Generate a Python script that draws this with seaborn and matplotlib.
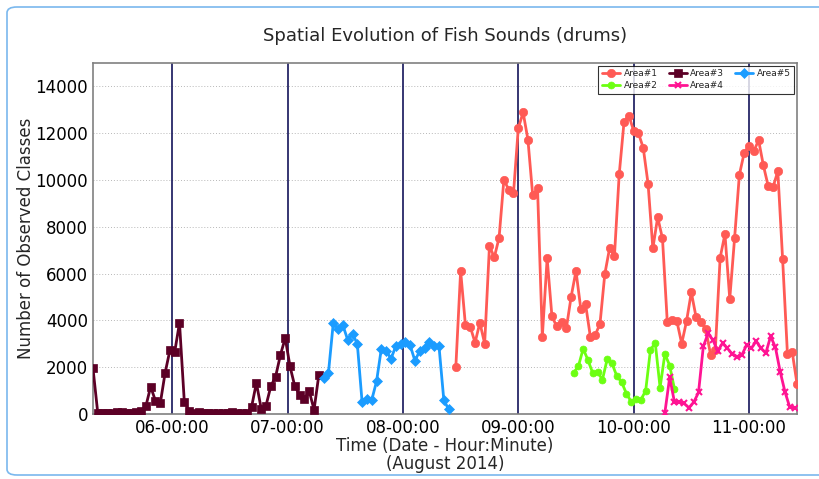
import numpy as np
import pandas as pd
import seaborn as sns
import matplotlib
matplotlib.use("Agg")
import matplotlib.pyplot as plt
import matplotlib.dates as mdates
from matplotlib.patches import FancyBboxPatch

# values, one sample every 2.5 minutes
area1_start = "2014-08-01 08:27:30"
area1 = [2000, 6110, 3790, 3730, 3050, 3900, 3010, 7190, 6690, 7530,
         10010, 9590, 9440, 12210, 12890, 11730, 9340, 9660, 3300, 6650,
         4170, 3740, 3930, 3670, 5020, 6110, 4500, 4690, 3290, 3370,
         3860, 5980, 7090, 6740, 10250, 12480, 12750, 12110, 12000, 11370,
         9840, 7080, 8410, 7500, 3930, 4030, 3960, 3010, 3960, 5200,
         4130, 3930, 3640, 2540, 2750, 6680, 7690, 4920, 7500, 10220,
         11160, 11470, 11230, 11700, 10620, 9740, 9700, 10370, 6620, 2570,
         2640, 1290]

area2_start = "2014-08-01 09:28:45"
area2 = [1760, 2040, 2790, 2300, 1740, 1800, 1460, 2350, 2160, 1620,
         1360, 870, 520, 640, 610, 990, 2750, 3030, 1130, 2570,
         2070, 1060]

area3_start = "2014-08-01 05:18:45"
area3 = [1950, 30, 30, 50, 60, 80, 90, 40, 30, 100,
         130, 330, 1170, 560, 450, 1750, 2720, 2640, 3900, 530,
         140, 40, 70, 40, 30, 30, 60, 40, 30, 70,
         50, 40, 40, 300, 1330, 230, 360, 1180, 1600, 2520,
         3250, 2030, 1180, 830, 650, 970, 180, 1680]

area4_start = "2014-08-01 10:16:15"
area4 = [60, 1570, 500, 510, 450, 270, 500, 920, 2890, 3450,
         3160, 2680, 3030, 2810, 2570, 2450, 2510, 2950, 2810, 3110,
         2810, 2600, 3320, 2850, 1800, 940, 280, 270]

area5_start = "2014-08-01 07:18:45"
area5 = [1530, 1770, 3890, 3630, 3790, 3170, 3430, 3000, 500, 640,
         600, 1390, 2790, 2710, 2360, 2890, 2970, 3060, 2930, 2270,
         2710, 2820, 3070, 2920, 2890, 600, 200]

hours = ["06:00", "07:00", "08:00", "09:00", "10:00", "11:00"]

series = [
    ("Area#1", area1_start, area1, "#ff5a55", "o", 6),
    ("Area#2", area2_start, area2, "#6cff12", "o", 5),
    ("Area#3", area3_start, area3, "#5c0026", "s", 6),
    ("Area#4", area4_start, area4, "#ff1493", "x", 5),
    ("Area#5", area5_start, area5, "#1b9cff", "D", 5),
]

sns.set_style("white")
plt.rcParams["font.family"] = ["DejaVu Sans"]

fig = plt.figure(figsize=(8.2, 4.79), dpi=100)
ax = fig.add_axes([0.1134, 0.1357, 0.8586, 0.7328])

# vertical hour markers
for h in hours:
    ax.axvline(pd.Timestamp("2014-08-01 " + h), color="#14145a", lw=1.2, zorder=1)

for name, start, vals, col, mk, ms in series:
    t = pd.date_range(start, periods=len(vals), freq="150s")
    sns.lineplot(x=t, y=vals, ax=ax, color=col, marker=mk, markersize=ms,
                 markeredgecolor=col, markeredgewidth=1.5 if mk == "x" else 0.5,
                 linewidth=2, label=name, zorder=3)

ax.set_xlim(pd.Timestamp(area3_start), pd.Timestamp("2014-08-01 11:25:00"))
ax.set_ylim(0, 15000)
ax.set_yticks(np.arange(0, 15000, 2000))
ax.set_xticks([pd.Timestamp("2014-08-01 " + h) for h in hours])
ax.xaxis.set_major_formatter(mdates.DateFormatter("%H-%M:%S"))
ax.yaxis.grid(True, linestyle=(0, (1, 2)), color="#b8b8b8", linewidth=0.7)
ax.xaxis.grid(False)
ax.tick_params(labelsize=12, direction="in", length=3, colors="#808080",
               labelcolor="black")
for s in ax.spines.values():
    s.set_color("#808080")
    s.set_linewidth(1.2)

ax.set_xlabel("Time (Date - Hour:Minute)\n(August 2014)", fontsize=12,
              linespacing=1.0, labelpad=0)
ax.set_ylabel("Number of Observed Classes", fontsize=12, labelpad=0)
ax.set_title("Spatial Evolution of Fish Sounds (drums)", fontsize=13, pad=16)

leg = ax.legend(loc="upper right", ncol=3, fontsize=6.5, frameon=True,
                fancybox=False, borderaxespad=0.3, handlelength=2.0,
                columnspacing=1.2, handletextpad=0.4, borderpad=0.4,
                labelspacing=0.3)
leg.get_frame().set_edgecolor("black")
leg.get_frame().set_linewidth(0.8)

# rounded panel outline around the chart
box = FancyBboxPatch((7 / 820, 4 / 479), 830 / 820, 468 / 479,
                     boxstyle="round,pad=0,rounding_size=0.012",
                     transform=fig.transFigure, fill=False,
                     edgecolor="#7ab8ee", linewidth=1.2, clip_on=False)
fig.patches.append(box)

fig.savefig("out.png", dpi=100)
